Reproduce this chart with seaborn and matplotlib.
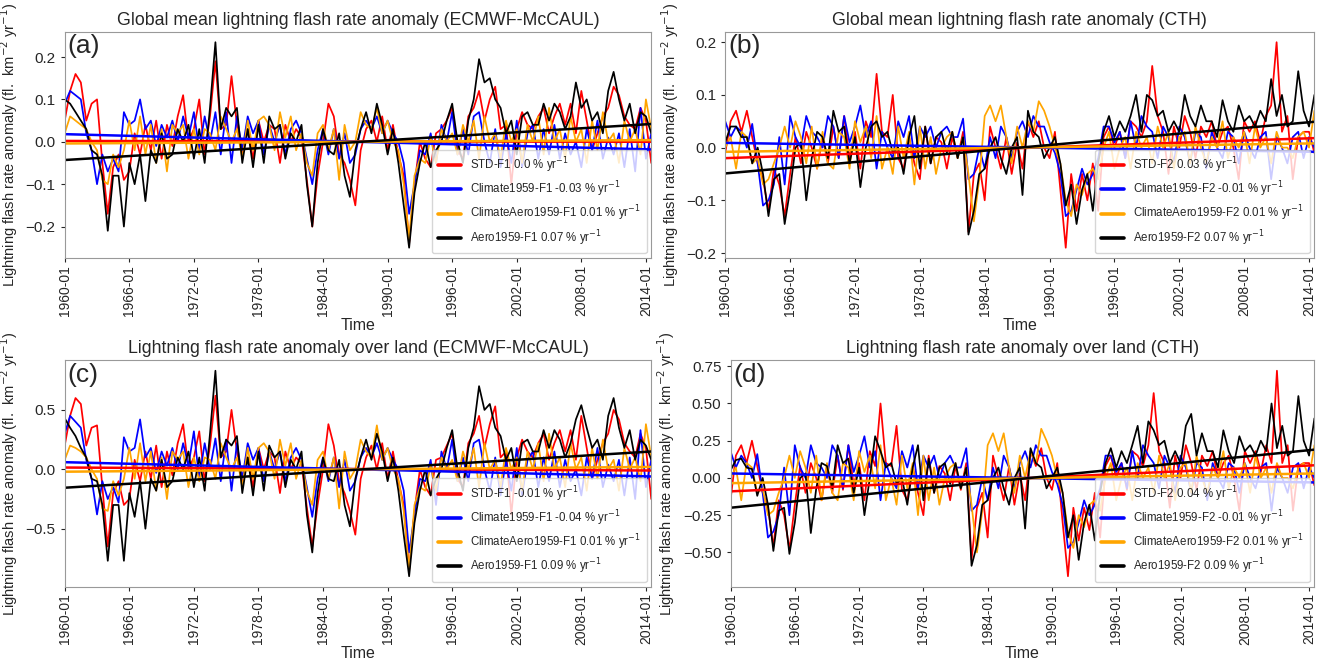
import numpy as np
import pandas as pd
import matplotlib
matplotlib.use("Agg")
import matplotlib.pyplot as plt
import matplotlib.dates as mdates
from matplotlib.ticker import MultipleLocator
import seaborn as sns

# half-yearly samples (Jan / Jul), 1960-01 .. 2014-07
dates = pd.date_range("1960-01-01", periods=110, freq="6MS")

# (a) global mean, ECMWF-McCAUL
a_std = [0.05, 0.12, 0.16, 0.14, 0.05, 0.09, 0.1, -0.05, -0.17, -0.06,
         -0.03, -0.09, -0.07, 0.02, -0.03, 0.04, -0.02, 0.05, -0.04, 0.04,
         -0.01, 0.06, 0.11, 0.0, 0.03, 0.1, -0.03, 0.06, 0.19, 0.03,
         0.04, 0.155, 0.04, -0.03, 0.03, -0.04, 0.05, 0.0, 0.04, 0.03,
         -0.05, 0.04, 0.0, 0.03, 0.01, -0.09, -0.2, -0.08, 0.0, 0.09,
         0.06, -0.03, -0.05, -0.09, -0.15, -0.02, 0.03, 0.05, 0.0, 0.06,
         -0.02, 0.04, -0.03, -0.08, -0.24, -0.1, 0.0, -0.04, -0.06, 0.02,
         0.03, 0.05, 0.08, -0.02, -0.04, 0.06, 0.08, 0.12, 0.05, 0.1,
         0.13, 0.03, 0.04, -0.1, 0.03, 0.07, 0.04, 0.03, 0.06, 0.08,
         0.02, 0.06, 0.09, 0.04, 0.09, 0.02, 0.12, 0.05, -0.02, 0.02,
         0.06, 0.08, 0.13, 0.11, 0.06, 0.04, 0.03, 0.08, 0.05, -0.05]
a_clim = [0.09, 0.12, 0.11, 0.1, 0.02, -0.02, -0.1, -0.03, -0.07, -0.04,
          -0.07, 0.07, 0.04, 0.05, 0.1, 0.03, 0.05, -0.01, 0.04, 0.01,
          0.05, 0.0, 0.06, 0.01, 0.07, -0.02, 0.06, 0.0, 0.07, -0.03,
          0.07, -0.05, 0.06, -0.02, 0.06, 0.02, 0.05, -0.03, 0.04, 0.0,
          0.04, -0.03, 0.03, 0.05, 0.02, -0.04, -0.1, -0.02, 0.03, -0.03,
          0.03, -0.04, 0.02, -0.05, -0.03, 0.03, 0.05, 0.03, 0.06, 0.02,
          0.05, 0.02, 0.0, -0.05, -0.17, -0.1, -0.02, -0.03, 0.02, -0.05,
          0.04, 0.0, 0.07, -0.03, 0.03, -0.03, 0.06, 0.07, 0.0, -0.05,
          0.03, -0.06, 0.02, -0.05, 0.05, -0.06, 0.02, 0.04, -0.04, 0.03,
          -0.03, 0.04, -0.04, 0.02, -0.03, 0.0, -0.06, 0.03, -0.02, 0.05,
          -0.04, 0.01, -0.03, 0.02, -0.06, 0.03, -0.07, 0.08, -0.04, 0.02]
a_climaero = [0.02, 0.06, 0.05, 0.04, 0.03, 0.0, -0.02, -0.09, -0.1, -0.03,
              -0.06, -0.02, 0.05, -0.02, 0.06, -0.03, 0.04, -0.05, 0.03, -0.07,
              0.04, 0.02, 0.04, -0.04, 0.03, -0.03, 0.03, 0.02, -0.02, 0.06,
              0.03, 0.0, 0.03, -0.04, 0.05, -0.02, 0.05, 0.06, 0.04, -0.02,
              0.07, 0.01, 0.06, -0.02, 0.02, -0.05, -0.08, 0.02, 0.04, -0.02,
              0.03, -0.09, 0.04, -0.02, 0.0, 0.07, 0.04, 0.03, 0.08, 0.02,
              0.05, 0.0, -0.02, -0.1, -0.23, -0.08, -0.04, -0.05, 0.01, -0.05,
              0.03, 0.0, 0.02, -0.03, 0.04, 0.0, 0.05, -0.04, 0.06, 0.0,
              0.02, -0.04, 0.05, 0.0, 0.03, -0.05, 0.04, 0.0, 0.06, -0.03,
              0.08, 0.0, 0.03, -0.04, 0.06, 0.0, 0.03, -0.05, 0.05, -0.02,
              0.07, 0.0, 0.02, -0.05, 0.05, 0.0, 0.03, -0.03, 0.1, 0.03]
a_aero = [0.1, 0.09, 0.07, 0.05, 0.03, -0.02, -0.03, -0.08, -0.21, -0.08,
          -0.08, -0.2, -0.05, -0.1, -0.03, -0.14, -0.02, -0.05, 0.02, -0.04,
          -0.03, 0.03, 0.0, 0.04, -0.04, 0.03, -0.05, 0.08, 0.235, 0.03,
          0.08, 0.06, 0.08, -0.05, 0.03, -0.06, 0.04, -0.05, 0.06, 0.03,
          0.04, -0.04, 0.02, 0.0, 0.04, -0.1, -0.2, -0.05, 0.03, -0.02,
          -0.03, 0.02, -0.08, -0.13, -0.02, 0.03, 0.07, 0.02, 0.09, 0.04,
          -0.03, 0.03, -0.05, -0.15, -0.25, -0.12, -0.05, 0.0, -0.06, -0.02,
          0.0, 0.05, 0.09, 0.0, -0.05, 0.05, 0.1, 0.195, 0.14, 0.15,
          0.1, 0.08, 0.02, 0.05, -0.03, 0.06, 0.07, 0.04, 0.04, 0.09,
          0.05, 0.09, 0.07, 0.03, 0.06, 0.14, 0.08, 0.1, 0.05, 0.07,
          0.02, 0.12, 0.165, 0.1, 0.05, 0.09, 0.02, 0.07, 0.06, 0.02]

# (b) global mean, CTH
b_std = [-0.01, 0.05, 0.07, 0.03, 0.07, 0.02, -0.03, -0.06, -0.12, -0.04,
         -0.07, -0.13, -0.05, 0.02, -0.03, 0.03, 0.0, -0.04, 0.02, -0.03,
         0.04, -0.02, 0.06, -0.02, 0.03, -0.04, 0.05, 0.02, 0.14, 0.03,
         0.02, 0.1, -0.02, -0.04, 0.02, -0.03, -0.06, 0.04, -0.03, 0.02,
         0.01, -0.04, 0.02, -0.02, 0.03, -0.16, -0.05, -0.03, -0.1, 0.04,
         0.0, -0.04, 0.02, -0.05, 0.01, -0.04, 0.05, 0.02, 0.05, 0.0,
         -0.02, 0.03, -0.08, -0.19, -0.05, -0.12, -0.05, -0.1, -0.03, -0.12,
         0.02, 0.04, 0.0, 0.03, -0.02, 0.05, 0.04, 0.02, 0.05, 0.155,
         0.06, 0.03, -0.05, 0.04, 0.0, 0.06, 0.03, -0.02, 0.04, 0.02,
         0.05, 0.0, 0.03, 0.04, 0.0, -0.06, 0.05, 0.03, 0.05, 0.01,
         0.06, 0.08, 0.2, 0.03, 0.06, -0.06, 0.02, 0.03, 0.03, -0.01]
b_clim = [0.05, 0.02, 0.04, 0.03, 0.0, 0.045, -0.03, -0.11, -0.1, -0.07,
          0.02, -0.07, 0.06, 0.02, 0.0, 0.06, 0.03, 0.02, 0.0, 0.06,
          0.04, -0.02, 0.06, 0.01, 0.04, 0.08, 0.02, 0.05, -0.04, 0.03,
          0.0, -0.02, 0.05, 0.02, 0.06, -0.02, 0.04, 0.02, 0.04, 0.0,
          0.03, 0.04, 0.02, 0.02, 0.055, -0.06, -0.05, 0.0, -0.04, 0.02,
          -0.02, 0.04, 0.02, -0.02, 0.03, 0.05, 0.02, 0.06, 0.04, 0.04,
          0.01, -0.01, -0.05, -0.13, -0.12, -0.08, -0.04, -0.07, -0.05, -0.02,
          0.04, 0.04, 0.01, 0.03, -0.02, 0.05, 0.0, 0.06, 0.04, 0.03,
          -0.02, 0.04, 0.02, -0.03, 0.04, 0.02, -0.03, 0.03, 0.02, -0.04,
          0.03, 0.0, -0.02, 0.03, 0.02, -0.03, 0.03, 0.0, -0.02, 0.02,
          0.03, -0.06, 0.02, 0.0, -0.03, 0.02, 0.03, -0.02, 0.02, 0.0]
b_climaero = [0.0, 0.02, -0.04, 0.03, 0.02, -0.03, -0.02, -0.07, -0.06, -0.03,
              0.0, 0.04, 0.0, 0.05, 0.02, -0.03, 0.04, -0.04, 0.03, -0.03,
              -0.04, 0.03, 0.02, -0.04, 0.05, 0.01, 0.04, -0.02, 0.06, -0.04,
              0.0, -0.05, 0.04, -0.02, 0.03, -0.07, 0.04, -0.04, 0.02, -0.05,
              0.0, 0.02, 0.03, -0.02, 0.02, -0.05, -0.14, -0.06, 0.06, 0.08,
              0.05, 0.08, 0.02, -0.03, 0.04, 0.0, 0.05, 0.03, 0.088, 0.07,
              0.04, 0.0, -0.03, -0.1, -0.13, -0.07, -0.09, -0.05, -0.04, -0.06,
              0.0, 0.03, -0.04, 0.0, 0.02, -0.04, 0.03, 0.0, 0.02, -0.03,
              0.04, 0.0, 0.03, -0.04, 0.02, 0.03, -0.03, 0.04, 0.0, -0.03,
              0.02, 0.0, 0.05, -0.02, 0.02, 0.0, 0.03, -0.03, 0.04, 0.0,
              0.02, -0.03, 0.03, 0.0, 0.0, -0.02, 0.02, 0.03, 0.0, 0.07]
b_aero = [0.01, 0.04, 0.04, 0.02, 0.02, -0.03, 0.0, -0.05, -0.13, -0.06,
          -0.05, -0.145, -0.08, 0.0, 0.01, -0.1, -0.02, 0.03, 0.02, -0.02,
          0.07, 0.03, 0.04, -0.03, 0.02, -0.075, 0.0, 0.04, 0.05, 0.02,
          0.03, -0.01, 0.0, -0.05, 0.02, 0.06, -0.04, 0.04, -0.03, 0.02,
          0.03, -0.01, 0.03, -0.02, 0.02, -0.165, -0.12, -0.05, -0.04, 0.0,
          0.02, -0.02, -0.05, 0.0, 0.02, -0.09, 0.07, 0.03, 0.02, -0.02,
          0.0, 0.02, -0.03, -0.11, -0.07, -0.145, -0.08, -0.05, -0.12, -0.03,
          0.03, 0.06, 0.02, 0.05, 0.03, 0.06, 0.1, 0.03, 0.1, 0.09,
          0.06, 0.07, 0.03, 0.05, 0.03, 0.1, 0.06, 0.04, 0.08, 0.05,
          0.05, 0.02, 0.09, 0.05, 0.03, 0.08, 0.05, 0.06, 0.04, 0.07,
          0.05, 0.13, 0.06, 0.1, 0.04, 0.05, 0.145, 0.07, 0.04, 0.1]

# (c) over land, ECMWF-McCAUL
c_std = [0.2, 0.45, 0.6, 0.55, 0.2, 0.35, 0.37, -0.15, -0.65, -0.2,
         -0.1, -0.3, -0.25, 0.08, -0.1, 0.15, -0.08, 0.2, -0.15, 0.15,
         -0.05, 0.22, 0.38, 0.0, 0.1, 0.32, -0.1, 0.2, 0.62, 0.1,
         0.15, 0.5, 0.15, -0.1, 0.1, -0.15, 0.18, 0.0, 0.15, 0.1,
         -0.2, 0.15, 0.0, 0.1, 0.05, -0.32, -0.65, -0.3, 0.0, 0.38,
         0.2, -0.1, -0.2, -0.35, -0.55, -0.08, 0.1, 0.2, 0.0, 0.22,
         -0.08, 0.15, -0.1, -0.3, -0.85, -0.35, 0.0, -0.15, -0.22, 0.08,
         0.1, 0.2, 0.3, -0.08, -0.15, 0.22, 0.3, 0.45, 0.18, 0.38,
         0.53, 0.1, 0.15, -0.38, 0.1, 0.25, 0.15, 0.1, 0.22, 0.3,
         0.08, 0.22, 0.33, 0.15, 0.33, 0.08, 0.45, 0.18, -0.08, 0.08,
         0.22, 0.3, 0.5, 0.42, 0.22, 0.15, 0.1, 0.3, 0.18, -0.25]
c_clim = [0.3, 0.45, 0.4, 0.35, 0.08, -0.08, -0.38, -0.1, -0.25, -0.15,
          -0.28, 0.27, 0.15, 0.18, 0.42, 0.1, 0.18, -0.03, 0.15, 0.03,
          0.18, 0.0, 0.22, 0.03, 0.32, -0.08, 0.22, 0.0, 0.26, -0.1,
          0.25, -0.18, 0.22, -0.08, 0.22, 0.08, 0.18, -0.1, 0.15, 0.0,
          0.15, -0.1, 0.1, 0.18, 0.08, -0.15, -0.4, -0.08, 0.1, -0.1,
          0.1, -0.15, 0.08, -0.18, -0.1, 0.1, 0.18, 0.1, 0.22, 0.08,
          0.18, 0.08, 0.0, -0.18, -0.7, -0.38, -0.08, -0.1, 0.08, -0.3,
          0.15, 0.0, 0.25, -0.1, 0.1, -0.1, 0.22, 0.25, 0.0, -0.18,
          0.1, -0.22, 0.08, -0.18, 0.18, -0.22, 0.08, 0.15, -0.15, 0.1,
          -0.1, 0.15, -0.15, 0.08, -0.1, 0.0, -0.22, 0.1, -0.08, 0.18,
          -0.15, 0.04, -0.1, 0.08, -0.22, 0.1, -0.25, 0.33, -0.15, 0.08]
c_climaero = [0.08, 0.2, 0.18, 0.15, 0.1, 0.0, -0.08, -0.33, -0.35, -0.1,
              -0.22, -0.08, 0.18, -0.08, 0.22, -0.1, 0.15, -0.18, 0.1, -0.25,
              0.15, 0.08, 0.15, -0.15, 0.1, -0.1, 0.1, 0.08, -0.08, 0.22,
              0.1, 0.0, 0.1, -0.15, 0.18, -0.08, 0.18, 0.22, 0.15, -0.08,
              0.25, 0.03, 0.22, -0.08, 0.08, -0.18, -0.3, 0.08, 0.15, -0.08,
              0.1, -0.33, 0.15, -0.08, 0.0, 0.25, 0.15, 0.1, 0.37, 0.08,
              0.18, 0.0, -0.08, -0.35, -0.85, -0.3, -0.15, -0.18, 0.03, -0.18,
              0.1, 0.0, 0.08, -0.1, 0.15, 0.0, 0.18, -0.15, 0.22, 0.0,
              0.08, -0.15, 0.18, 0.0, 0.1, -0.18, 0.15, 0.0, 0.22, -0.1,
              0.3, 0.0, 0.1, -0.15, 0.22, 0.0, 0.1, -0.18, 0.18, -0.08,
              0.25, 0.0, 0.08, -0.18, 0.18, 0.0, 0.1, -0.1, 0.38, 0.1]
c_aero = [0.43, 0.35, 0.28, 0.18, 0.1, -0.08, -0.1, -0.3, -0.77, -0.3,
          -0.3, -0.77, -0.2, -0.4, -0.1, -0.5, -0.08, -0.18, 0.08, -0.15,
          -0.1, 0.1, 0.0, 0.15, -0.15, 0.1, -0.18, 0.3, 0.83, 0.1,
          0.25, 0.2, 0.28, -0.2, 0.1, -0.22, 0.15, -0.18, 0.2, 0.1,
          0.15, -0.15, 0.08, 0.0, 0.15, -0.38, -0.7, -0.2, 0.1, -0.08,
          -0.1, 0.08, -0.3, -0.48, -0.08, 0.1, 0.25, 0.08, 0.3, 0.15,
          -0.1, 0.1, -0.18, -0.55, -0.9, -0.45, -0.18, 0.0, -0.22, -0.08,
          0.0, 0.18, 0.33, 0.0, -0.18, 0.18, 0.35, 0.7, 0.5, 0.55,
          0.35, 0.28, 0.08, 0.18, -0.1, 0.22, 0.25, 0.15, 0.15, 0.33,
          0.18, 0.33, 0.25, 0.1, 0.22, 0.42, 0.54, 0.35, 0.18, 0.25,
          0.08, 0.45, 0.6, 0.35, 0.18, 0.33, 0.08, 0.25, 0.2, 0.08]

# (d) over land, CTH
d_std = [-0.15, 0.15, 0.22, 0.1, 0.25, 0.08, -0.1, -0.2, -0.46, -0.15,
         -0.25, -0.48, -0.18, 0.08, -0.1, 0.1, 0.0, -0.15, 0.08, -0.1,
         0.15, -0.08, 0.22, -0.05, 0.1, -0.15, 0.18, 0.08, 0.5, 0.1,
         0.08, 0.35, -0.08, -0.15, 0.08, -0.1, -0.25, 0.15, -0.1, 0.08,
         0.03, -0.15, 0.08, -0.08, 0.1, -0.55, -0.2, -0.1, -0.4, 0.15,
         0.0, -0.15, 0.08, -0.18, 0.03, -0.15, 0.18, 0.08, 0.2, 0.0,
         -0.08, 0.1, -0.3, -0.66, -0.2, -0.42, -0.2, -0.35, -0.1, -0.4,
         0.08, 0.15, 0.0, 0.1, -0.08, 0.18, 0.15, 0.08, 0.22, 0.57,
         0.18, 0.1, -0.2, 0.15, 0.0, 0.22, 0.1, -0.08, 0.15, 0.08,
         0.18, 0.0, 0.1, 0.15, 0.0, -0.22, 0.18, 0.1, 0.18, 0.04,
         0.22, 0.1, 0.72, 0.1, 0.22, -0.22, 0.08, 0.1, 0.1, -0.05]
d_clim = [0.18, 0.07, 0.15, 0.1, 0.0, 0.16, -0.1, -0.4, -0.36, -0.25,
          0.07, -0.25, 0.22, 0.07, 0.0, 0.22, 0.1, 0.07, 0.0, 0.22,
          0.15, -0.07, 0.22, 0.04, 0.15, 0.28, 0.07, 0.18, -0.15, 0.1,
          0.0, -0.07, 0.18, 0.07, 0.22, -0.07, 0.15, 0.07, 0.15, 0.0,
          0.1, 0.15, 0.07, 0.07, 0.2, -0.22, -0.18, 0.0, -0.15, 0.07,
          -0.07, 0.15, 0.07, -0.07, 0.1, 0.18, 0.07, 0.22, 0.15, 0.15,
          0.04, -0.04, -0.18, -0.47, -0.43, -0.3, -0.15, -0.25, -0.18, -0.07,
          0.15, 0.15, 0.04, 0.1, -0.07, 0.18, 0.0, 0.22, 0.15, 0.1,
          -0.07, 0.15, 0.07, -0.1, 0.15, 0.07, -0.1, 0.1, 0.07, -0.15,
          0.1, 0.0, -0.07, 0.1, 0.07, -0.1, 0.1, 0.0, -0.07, 0.07,
          0.1, -0.22, 0.07, 0.0, -0.1, 0.07, 0.1, -0.07, 0.07, 0.0]
d_climaero = [0.0, 0.07, -0.15, 0.1, 0.07, -0.1, -0.07, -0.25, -0.22, -0.1,
              0.0, 0.15, 0.0, 0.18, 0.07, -0.1, 0.15, -0.15, 0.1, -0.1,
              -0.15, 0.1, 0.07, -0.15, 0.18, 0.04, 0.15, -0.07, 0.22, -0.15,
              0.0, -0.18, 0.15, -0.07, 0.1, -0.25, 0.15, -0.15, 0.07, -0.18,
              0.0, 0.07, 0.1, -0.07, 0.07, -0.18, -0.5, -0.22, 0.22, 0.3,
              0.18, 0.3, 0.07, -0.1, 0.15, 0.0, 0.18, 0.1, 0.33, 0.25,
              0.15, 0.0, -0.1, -0.36, -0.47, -0.25, -0.33, -0.18, -0.15, -0.22,
              0.0, 0.1, -0.15, 0.0, 0.07, -0.15, 0.1, 0.0, 0.07, -0.1,
              0.15, 0.0, 0.1, -0.15, 0.07, 0.1, -0.1, 0.15, 0.0, -0.1,
              0.07, 0.0, 0.18, -0.07, 0.07, 0.0, 0.1, -0.1, 0.15, 0.0,
              0.07, -0.1, 0.1, 0.0, 0.0, -0.07, 0.07, 0.1, 0.0, 0.22]
d_aero = [0.05, 0.12, 0.13, 0.07, 0.06, -0.12, 0.0, -0.18, -0.49, -0.22,
          -0.2, -0.51, -0.3, 0.0, 0.03, -0.37, -0.07, 0.1, 0.08, -0.07,
          0.22, 0.1, 0.13, -0.1, 0.07, -0.25, 0.0, 0.28, 0.18, 0.07,
          0.1, -0.04, 0.0, -0.18, 0.07, 0.22, -0.15, 0.13, -0.1, 0.07,
          0.1, -0.04, 0.1, -0.07, 0.07, -0.59, -0.45, -0.18, -0.15, 0.0,
          0.07, -0.07, -0.18, 0.0, 0.07, -0.34, 0.2, 0.1, 0.07, -0.07,
          0.0, 0.07, -0.1, -0.4, -0.25, -0.55, -0.3, -0.18, -0.42, -0.1,
          0.1, 0.2, 0.07, 0.18, 0.1, 0.22, 0.35, 0.1, 0.38, 0.32,
          0.22, 0.25, 0.1, 0.18, 0.1, 0.35, 0.43, 0.15, 0.3, 0.18,
          0.18, 0.07, 0.32, 0.18, 0.1, 0.28, 0.18, 0.22, 0.15, 0.25,
          0.18, 0.5, 0.2, 0.35, 0.15, 0.18, 0.55, 0.25, 0.15, 0.4]

# linear trend lines: value at first and last date (STD, Climate, ClimateAero, Aero)
a_trend_start = [0.002, 0.018, -0.004, -0.043]
a_trend_end = [0.0, -0.018, 0.004, 0.042]
b_trend_start = [-0.02, 0.009, -0.008, -0.049]
b_trend_end = [0.018, -0.008, 0.008, 0.049]
c_trend_start = [0.015, 0.06, -0.02, -0.155]
c_trend_end = [-0.01, -0.06, 0.02, 0.15]
d_trend_start = [-0.09, 0.03, -0.035, -0.2]
d_trend_end = [0.085, -0.03, 0.03, 0.19]

runs = ["STD", "Climate1959", "ClimateAero1959", "Aero1959"]
colors = ["red", "blue", "orange", "black"]
a_rates = ["0.0", "-0.03", "0.01", "0.07"]
b_rates = ["0.03", "-0.01", "0.01", "0.07"]
c_rates = ["-0.01", "-0.04", "0.01", "0.09"]
d_rates = ["0.04", "-0.01", "0.01", "0.09"]

titles = ["Global mean lightning flash rate anomaly (ECMWF-McCAUL)",
          "Global mean lightning flash rate anomaly (CTH)",
          "Lightning flash rate anomaly over land (ECMWF-McCAUL)",
          "Lightning flash rate anomaly over land (CTH)"]

sns.set_style("ticks")
plt.rcParams["font.family"] = ["Liberation Sans", "DejaVu Sans"]

fig = plt.figure(figsize=(13.21, 6.65), dpi=100)
positions = [[0.049, 0.612, 0.444, 0.34], [0.549, 0.612, 0.446, 0.34],
             [0.049, 0.118, 0.444, 0.34], [0.553, 0.118, 0.442, 0.34]]
panels = [
    ("a", [a_std, a_clim, a_climaero, a_aero], a_trend_start, a_trend_end, a_rates, "F1", 0.1),
    ("b", [b_std, b_clim, b_climaero, b_aero], b_trend_start, b_trend_end, b_rates, "F2", 0.1),
    ("c", [c_std, c_clim, c_climaero, c_aero], c_trend_start, c_trend_end, c_rates, "F1", 0.5),
    ("d", [d_std, d_clim, d_climaero, d_aero], d_trend_start, d_trend_end, d_rates, "F2", 0.25),
]
ticks = pd.date_range("1960-01-01", "2014-01-01", freq="72MS")

for k, (letter, series, t0, t1, rates, fx, step) in enumerate(panels):
    ax = fig.add_axes(positions[k])
    labels = [f"{r}-{fx} {rt} % yr$^{{-1}}$" for r, rt in zip(runs, rates)]
    df = pd.DataFrame({"Time": np.tile(dates, 4),
                       "anomaly": np.concatenate(series),
                       "run": np.repeat(labels, len(dates))})
    sns.lineplot(data=df, x="Time", y="anomaly", hue="run", palette=colors,
                 ax=ax, legend=False, linewidth=1.25, estimator=None)
    trend = pd.DataFrame({"Time": np.tile([dates[0], dates[-1]], 4),
                          "anomaly": np.ravel(np.column_stack([t0, t1])),
                          "run": np.repeat(labels, 2)})
    sns.lineplot(data=trend, x="Time", y="anomaly", hue="run", palette=colors,
                 ax=ax, linewidth=1.8, estimator=None, legend=False)
    handles = ax.get_lines()[-4:]
    leg = ax.legend(handles, labels, loc="lower right", fontsize=8.3, framealpha=0.8,
                    handlelength=2.0, labelspacing=0.4, borderpad=0.5,
                    handletextpad=0.8, borderaxespad=0.4)
    for h in leg.get_lines():
        h.set_linewidth(2.6)

    ax.set_xlim(dates[0], dates[-1])
    ax.set_xticks(ticks)
    ax.xaxis.set_major_formatter(mdates.DateFormatter("%Y-%m"))
    ax.tick_params(axis="x", labelrotation=90, labelsize=10, length=3, pad=2)
    ax.tick_params(axis="y", labelsize=11, length=3)
    ax.yaxis.set_major_locator(MultipleLocator(step))
    ax.set_title(titles[k], fontsize=12.8, pad=5)
    ax.set_xlabel("Time", fontsize=11.5, labelpad=1)
    ax.set_ylabel("Lightning flash rate anomaly (fl.  km$^{-2}$ yr$^{-1}$)", fontsize=10.5)
    ax.text(0.005, 0.99, f"({letter})", transform=ax.transAxes, fontsize=19,
            va="top", ha="left")
    for sp in ax.spines.values():
        sp.set_color("#999999")
        sp.set_linewidth(0.8)

fig.savefig("out.png", dpi=100)
